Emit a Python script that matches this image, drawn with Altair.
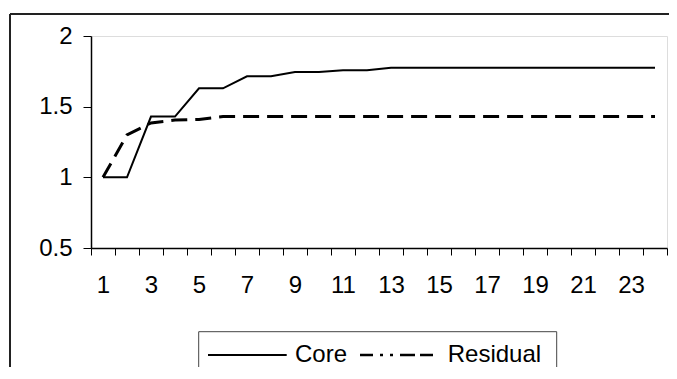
import altair as alt
import pandas as pd

periods = list(range(1, 25))
core = [1.0, 1.0, 1.43, 1.43, 1.63, 1.63, 1.715, 1.715, 1.745, 1.745, 1.757, 1.757,
        1.775, 1.775, 1.775, 1.775, 1.775, 1.775, 1.775, 1.775, 1.775, 1.775, 1.775, 1.775]
residual = [1.0, 1.30, 1.385, 1.405, 1.41, 1.43, 1.43, 1.43, 1.43, 1.43, 1.43, 1.43,
            1.43, 1.43, 1.43, 1.43, 1.43, 1.43, 1.43, 1.43, 1.43, 1.43, 1.43, 1.43]
series_names = ["Core", "Residual"]
y_ticks = [0.5, 1, 1.5, 2]

rows = []
for name, vals in zip(series_names, [core, residual]):
    for t, v in zip(periods, vals):
        rows.append({"t": t, "value": v, "series": name})
df = pd.DataFrame(rows)

FONT = "Liberation Sans"
W, H = 576, 212

x_enc = alt.X("t:O",
              scale=alt.Scale(paddingInner=0, paddingOuter=0),
              axis=alt.Axis(title=None, labelAngle=0, tickBand="extent", tickExtra=True,
                            labelExpr="datum.value % 2 == 1 ? datum.label : ''",
                            labelOverlap=False, tickSize=7, labelPadding=18,
                            labelFontSize=24, labelFont=FONT, labelColor="black",
                            domainColor="black", domainWidth=1.5,
                            tickColor="black", tickWidth=1, grid=False))
y_enc = alt.Y("value:Q",
              scale=alt.Scale(domain=[0.5, 2], nice=False, zero=False),
              axis=alt.Axis(title=None, values=y_ticks, format="~g", tickSize=8,
                            labelPadding=11, labelFontSize=24, labelFont=FONT,
                            labelColor="black", domainColor="black", domainWidth=1.5,
                            tickColor="black", tickWidth=1, grid=False))

base = alt.Chart(df)
core_line = base.transform_filter(alt.datum.series == series_names[0]).mark_line(
    color="black", strokeWidth=2).encode(x=x_enc, y=y_enc)
resid_line = base.transform_filter(alt.datum.series == series_names[1]).mark_line(
    color="black", strokeWidth=3, strokeDash=[16, 8]).encode(x=x_enc, y=y_enc)

one = pd.DataFrame([{"k": 0}])
frame_top = alt.Chart(one).mark_rule(color="#222", strokeWidth=2).encode(
    x=alt.value(-81), x2=alt.value(700), y=alt.value(-22))
frame_left = alt.Chart(one).mark_rule(color="#222", strokeWidth=2).encode(
    x=alt.value(-81), y=alt.value(-22), y2=alt.value(400))

# legend (drawn manually)
leg_box = alt.Chart(one).mark_rect(fill="white", stroke="#444", strokeWidth=1).encode(
    x=alt.value(107.7), x2=alt.value(465.7), y=alt.value(295.7), y2=alt.value(341.3))
leg_core_sym = alt.Chart(one).mark_rule(color="black", strokeWidth=2).encode(
    x=alt.value(117), x2=alt.value(195.7), y=alt.value(319))
leg_core_txt = alt.Chart(one).mark_text(
    align="left", baseline="alphabetic", font=FONT, fontSize=24, color="black").encode(
    x=alt.value(204), y=alt.value(325.7), text=alt.value(series_names[0]))
leg_res_sym = alt.Chart(one).mark_rule(
    color="black", strokeWidth=2.5, strokeDash=[13, 7, 3, 7, 3, 7, 15, 5]).encode(
    x=alt.value(269), x2=alt.value(342), y=alt.value(319))
leg_res_txt = alt.Chart(one).mark_text(
    align="left", baseline="alphabetic", font=FONT, fontSize=24, color="black").encode(
    x=alt.value(356.7), y=alt.value(325.7), text=alt.value(series_names[1]))

chart = alt.layer(
    frame_top, frame_left, core_line, resid_line,
    leg_box, leg_core_sym, leg_core_txt, leg_res_sym, leg_res_txt
).properties(
    width=W, height=H,
    autosize=alt.AutoSizeParams(type="none"),
    padding={"left": 83, "top": 28, "right": 2, "bottom": 119},
).configure_view(stroke="#a0a0a0", strokeWidth=2).configure(background="white")

chart.save("out.html", embed_options={"renderer": "svg", "actions": False})
